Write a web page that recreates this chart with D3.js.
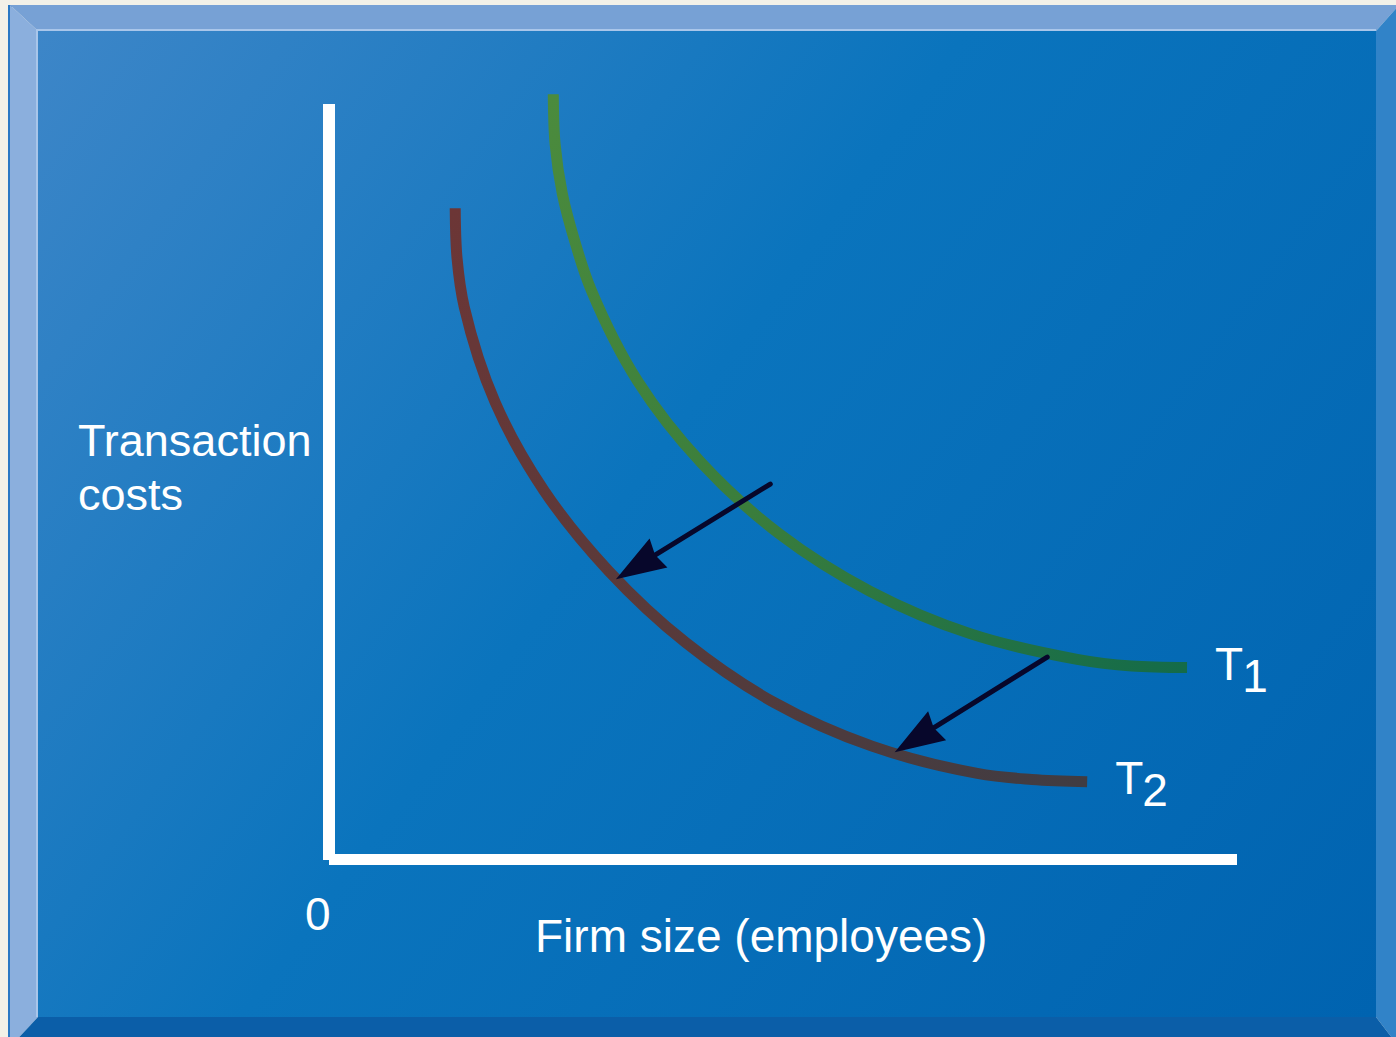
<!DOCTYPE html>
<html>
<head>
<meta charset="utf-8">
<script src="https://cdn.jsdelivr.net/npm/d3@7"></script>
<style>
  html, body { margin: 0; padding: 0; background: #f3f1e8; }
  svg { display: block; }
  text { font-family: "Liberation Sans", Arial, sans-serif; fill: #ffffff; }
</style>
</head>
<body>
<script>
// ---- Data (chart units: firm size 0-100, transaction costs 0-100) ----
const t1Size  = [24.7, 24.9, 25.7, 27.1, 28.9, 34.0, 41.0, 49.6, 59.6, 70.6, 82.4, 88.4, 94.5];
const t1Cost  = [101.3, 94.7, 88.1, 81.7, 75.3, 63.3, 52.5, 43.1, 35.5, 29.9, 26.5, 25.6, 25.4];
const t2Size  = [13.9, 14.1, 14.9, 18.3, 23.7, 30.8, 39.3, 49.0, 59.8, 71.4, 77.4, 83.5];
const t2Cost  = [86.2, 79.6, 73.1, 60.5, 48.8, 38.2, 28.7, 20.8, 15.0, 11.4, 10.6, 10.3];
const arrowFromSize = [48.6, 79.1];
const arrowFromCost = [49.7, 26.8];
const arrowToSize   = [31.6, 62.3];
const arrowToCost   = [37.1, 14.2];
const curveNames    = ["T", "T"];
const curveSubs     = ["1", "2"];
const yAxisLabel    = ["Transaction", "costs"];
const xAxisLabel    = "Firm size (employees)";
const originLabel   = "0";
const axisMax       = 100;

const W = 1396, H = 1037;
const svg = d3.select("body").append("svg").attr("width", W).attr("height", H);
const defs = svg.append("defs");

// ---- Frame / background ----
const outer = {x0: 10, y0: 5, x1: 1399, y1: 1047};
const inner = {x0: 38, y0: 31, x1: 1376, y1: 1017};

const bg = defs.append("linearGradient").attr("id", "bg")
  .attr("gradientUnits", "userSpaceOnUse")
  .attr("x1", inner.x0).attr("y1", inner.y0).attr("x2", inner.x1).attr("y2", inner.y1);
bg.append("stop").attr("offset", 0).attr("stop-color", "#3d86c8");
bg.append("stop").attr("offset", 0.45).attr("stop-color", "#0a74bd");
bg.append("stop").attr("offset", 1).attr("stop-color", "#0063b0");

svg.append("rect").attr("x", 8).attr("y", outer.y0).attr("width", 4).attr("height", H).attr("fill", "#2a78c4");
// bevels
svg.append("polygon").attr("fill", "#77a1d5")
  .attr("points", [[outer.x0, outer.y0], [outer.x1, outer.y0], [inner.x1, inner.y0], [inner.x0, inner.y0]].join(" "));
svg.append("polygon").attr("fill", "#8bafdd")
  .attr("points", [[outer.x0, outer.y0], [inner.x0, inner.y0], [inner.x0, inner.y1], [outer.x0, outer.y1]].join(" "));
svg.append("polygon").attr("fill", "#3183c8")
  .attr("points", [[outer.x1, outer.y0], [outer.x1, outer.y1], [inner.x1, inner.y1], [inner.x1, inner.y0]].join(" "));
svg.append("polygon").attr("fill", "#0b5ea8")
  .attr("points", [[outer.x0, outer.y1], [inner.x0, inner.y1], [inner.x1, inner.y1], [outer.x1, outer.y1]].join(" "));
svg.append("rect").attr("x", inner.x0).attr("y", inner.y0)
  .attr("width", inner.x1 - inner.x0).attr("height", inner.y1 - inner.y0).attr("fill", "url(#bg)");
svg.append("path").attr("fill", "none").attr("stroke", "#a9c6ea").attr("stroke-width", 2)
  .attr("d", `M${inner.x0 - 1},${inner.y1} V${inner.y0 - 1} H${inner.x1}`);

// ---- Scales ----
const x = d3.scaleLinear().domain([0, axisMax]).range([329, 1237]);
const y = d3.scaleLinear().domain([0, axisMax]).range([859.5, 104]);

// ---- Axes (plain white lines, no ticks) ----
svg.append("line").attr("x1", x(0)).attr("x2", x(0)).attr("y1", y(axisMax)).attr("y2", y(0) + 0.5)
  .attr("stroke", "#ffffff").attr("stroke-width", 12);
svg.append("line").attr("x1", x(0)).attr("x2", x(axisMax)).attr("y1", y(0)).attr("y2", y(0))
  .attr("stroke", "#ffffff").attr("stroke-width", 11);

// ---- Curves ----
const line = d3.line().x(d => x(d[0])).y(d => y(d[1])).curve(d3.curveCatmullRom.alpha(0.5));
const curves = [
  {pts: d3.zip(t1Size, t1Cost), colors: ["#4b8b3d", "#3a7d3c", "#146b49"], id: "g1"},
  {pts: d3.zip(t2Size, t2Cost), colors: ["#6c3636", "#583a3a", "#403c42"], id: "g2"}
];
curves.forEach(c => {
  const a = c.pts[0], b = c.pts[c.pts.length - 1];
  const g = defs.append("linearGradient").attr("id", c.id).attr("gradientUnits", "userSpaceOnUse")
    .attr("x1", x(a[0])).attr("y1", y(a[1])).attr("x2", x(b[0])).attr("y2", y(b[1]));
  c.colors.forEach((col, i) => g.append("stop").attr("offset", i / (c.colors.length - 1)).attr("stop-color", col));
  svg.append("path").attr("d", line(c.pts)).attr("fill", "none")
    .attr("stroke", `url(#${c.id})`).attr("stroke-width", 11);
});

// ---- Shift arrows ----
arrowFromSize.forEach((_, i) => {
  const sx = x(arrowFromSize[i]), sy = y(arrowFromCost[i]);
  const tx = x(arrowToSize[i]), ty = y(arrowToCost[i]);
  const len = Math.hypot(tx - sx, ty - sy);
  const ux = (tx - sx) / len, uy = (ty - sy) / len;
  const nx = -uy, ny = ux;
  const headL = 50, headW = 17;
  const bx = tx - ux * headL, by = ty - uy * headL;
  svg.append("line").attr("x1", sx).attr("y1", sy).attr("x2", bx + ux * 6).attr("y2", by + uy * 6)
    .attr("stroke", "#07072b").attr("stroke-width", 5).attr("stroke-linecap", "round");
  const notch = 4;
  svg.append("path").attr("fill", "#07072b")
    .attr("d", `M${tx},${ty} L${bx + nx * headW},${by + ny * headW} L${bx + ux * notch},${by + uy * notch} L${bx - nx * headW},${by - ny * headW} Z`);
});

// ---- Text ----
const fs = 45;
const yl = svg.append("text").attr("x", 78).attr("y", 456).attr("font-size", fs);
yAxisLabel.forEach((t, i) => yl.append("tspan").attr("x", 78).attr("y", 456 + i * 54).text(t));
svg.append("text").attr("x", 535).attr("y", 952).attr("font-size", 46).text(xAxisLabel);
svg.append("text").attr("x", x(0) - 24).attr("y", 930).attr("font-size", 46).text(originLabel);

const curveEnds = [[t1Size[t1Size.length - 1], t1Cost[t1Cost.length - 1]], [t2Size[t2Size.length - 1], t2Cost[t2Cost.length - 1]]];
curveEnds.forEach((e, i) => {
  const t = svg.append("text").attr("x", x(e[0]) + 28).attr("y", y(e[1]) + 12).attr("font-size", 46);
  t.append("tspan").text(curveNames[i]);
  t.append("tspan").attr("dy", 12).attr("dx", -1).text(curveSubs[i]);
});
</script>
</body>
</html>
